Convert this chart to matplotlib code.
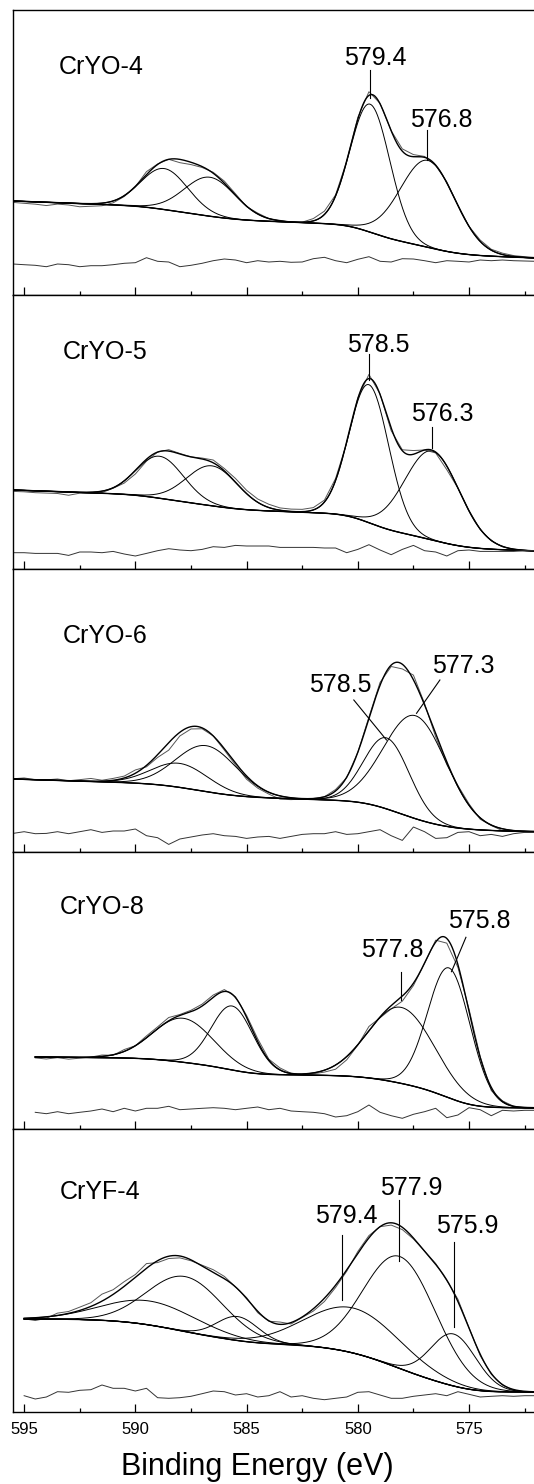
import numpy as np
import matplotlib.pyplot as plt
from matplotlib.ticker import MultipleLocator

plt.rcParams['font.family'] = ['Liberation Sans', 'DejaVu Sans']

# --- data (intensity in arbitrary units) ---
samples = ["CrYO-4", "CrYO-5", "CrYO-6", "CrYO-8", "CrYF-4"]
panel_top = [285, 274, 283, 277, 283]
scan_start = [595.5, 595.5, 595.5, 594.5, 595.0]
scan_end = 572.0

# fitted Cr 2p components: centre (eV), height above background, FWHM (eV)
centres = [
    [588.7, 586.65, 579.45, 576.85],
    [588.9, 586.55, 579.5, 576.65],
    [588.0, 586.8, 578.7, 577.4],
    [587.85, 585.65, 578.05, 575.9],
    [589.35, 587.75, 585.4, 580.2, 578.1, 575.7],
]
heights = [
    [41, 39, 128, 87],
    [42, 40, 138, 89],
    [24, 46, 71, 103],
    [44, 64, 76, 130],
    [24, 55, 24, 45, 112, 52],
]
fwhms = [
    [2.5, 2.7, 2.1, 2.9],
    [2.5, 2.7, 2.1, 2.9],
    [3.0, 3.2, 2.4, 3.3],
    [3.2, 2.2, 3.5, 2.25],
    [5.0, 4.0, 2.2, 5.0, 3.8, 2.4],
]

# Shirley + linear background: level at scan start, level at 572 eV, slope
bg_left = [94, 79, 73, 72, 93]
bg_right = [37, 18, 20, 21, 20]
bg_slope = [0.85, 0.8, 0.7, 0.2, 0.0]

# residual (raw - fit), one value every 0.5 eV from scan start down to 572 eV
residuals = [
    [-2.0, -2.7, -3.3, -4.7, -2.0, -2.7, -4.7, -3.7, -3.7, -2.7,
     -1.3, -0.7, 4.3, 0.7, 0.0, -4.7, -3.3, -1.3, 1.3, 3.0,
     2.0, -0.7, 1.3, 0.0, 0.7, -0.3, 0.0, 3.3, 4.7, 1.3,
     -0.7, 2.7, 5.3, 0.7, 0.0, 3.3, 3.0, 1.3, -0.7, 1.3,
     0.7, 0.0, 2.0, 1.3, 2.0, 1.3, 1.0, 0.7],
    [-2.0, -2.0, -2.7, -2.7, -2.7, -4.7, -1.3, -1.3, -2.0, -0.7,
     -3.3, -5.3, -2.7, 0.0, 2.0, 0.7, 0.0, 1.3, 4.0, 3.3,
     5.3, 4.7, 4.7, 4.7, 3.3, 3.3, 3.3, 3.3, 2.7, 2.7,
     -2.0, 1.3, 6.0, 0.7, -4.0, 1.3, 5.3, 0.0, -1.3, -5.3,
     0.0, 0.7, -0.7, -0.7, -0.7, -0.7, 0.0, 0.0],
    [0.3, 2.0, 0.0, 0.3, 2.0, 0.0, 2.0, 4.0, 1.3, 2.7,
     2.7, 4.7, -2.0, -4.0, -10.7, -5.3, -3.3, -1.3, 0.0, -2.0,
     -2.7, -4.7, -3.3, -2.7, -4.7, -2.7, -0.7, 0.0, 0.0, 2.0,
     -0.7, 0.0, 2.0, 4.0, -2.0, -6.7, 6.7, 2.0, -4.7, -4.0,
     1.3, 2.0, -2.0, -0.7, -2.7, 0.0, 1.3, 1.3],
    [-1.3, -2.7, -0.7, -2.7, -1.3, 0.0, 2.0, -0.7, 2.7, 0.0,
     2.7, 2.7, 4.7, 1.3, 2.0, 2.7, 3.3, 2.7, 1.3, 2.7,
     4.0, 1.3, 2.7, 0.0, -0.7, -1.3, -2.7, -6.0, -4.7, -0.7,
     6.0, -1.3, -4.7, -7.3, -3.3, -0.7, 2.7, -6.7, -4.0, 3.3,
     1.3, -4.7, 0.7, 0.0, 0.7, 0.7],
    [-0.7, -4.0, -2.0, 3.3, 2.7, 4.7, 5.3, 10.0, 6.7, 6.7,
     4.0, 6.7, -2.7, -3.3, -2.7, -1.3, 1.3, 4.0, 3.3, 0.0,
     1.3, -2.0, -0.7, 3.3, -2.0, -0.7, -3.3, -4.7, -3.3, -2.0,
     2.7, 3.3, 0.0, -3.3, -3.3, -1.3, 0.0, 1.3, -0.7, 3.3,
     0.7, -2.0, -1.3, -0.7, -1.3, -0.7, -0.7],
]

peak_labels = [
    ["579.4", "576.8"],
    ["578.5", "576.3"],
    ["578.5", "577.3"],
    ["577.8", "575.8"],
    ["579.4", "577.9", "575.9"],
]

# --- layout ---
res_offset = [33, 18.3, 18.3, 18, 17]
raw_scale = 0.7
name_pos = [(593.43, 221), (593.25, 210), (593.25, 209.3), (593.41, 214.7), (593.38, 212.7)]
label_pos = [
    [(579.23, 230), (576.27, 167.7)],
    [(579.1, 217.3), (576.2, 148.3)],
    [(580.77, 160.3), (575.27, 179.3)],
    [(578.45, 172.3), (574.56, 200.7)],
    [(580.54, 188.7), (577.58, 217), (575.08, 178.7)],
]
leaders = [
    [((579.47, 225), (579.47, 197)), ((576.88, 165), (576.88, 135))],
    [((579.49, 215), (579.49, 189)), ((576.66, 142.3), (576.66, 120.7))],
    [((580.18, 152), (578.71, 112)), ((576.31, 172), (577.36, 138.7))],
    [((578.08, 157.3), (578.08, 129)), ((575.14, 191.7), (575.79, 157.3))],
    [((580.73, 177), (580.73, 112)), ((578.15, 212), (578.15, 151)),
     ((575.68, 170.3), (575.68, 84.7))],
]


def gauss(e, c, h, w):
    s = w / 2.3548
    return h * np.exp(-0.5 * ((e - c) / s) ** 2)


fig = plt.figure(figsize=(5.34, 14.84), dpi=100)
gs = fig.add_gridspec(5, 1, height_ratios=panel_top, left=13 / 534, right=1.0,
                      top=1 - 10 / 1484, bottom=1 - 1412 / 1484, hspace=0)

for i in range(5):
    ax = fig.add_subplot(gs[i])
    n = int(round((scan_start[i] - scan_end) / 0.02)) + 1
    e = np.linspace(scan_start[i], scan_end, n)
    comps = [gauss(e, c, h, w) for c, h, w in zip(centres[i], heights[i], fwhms[i])]
    total = np.sum(comps, axis=0)

    # Shirley step follows the peak area accumulated from the low-BE side
    area = np.cumsum(total[::-1])[::-1]
    step = bg_left[i] - bg_right[i] - bg_slope[i] * (scan_start[i] - scan_end)
    bg = bg_right[i] + bg_slope[i] * (e - scan_end) + step * area / area[0]
    fit = bg + total

    e_meas = e[::25]
    res = np.array(residuals[i])
    raw = fit[::25] + raw_scale * res

    ax.plot(e_meas, raw, color='#555555', lw=0.7)
    ax.plot(e, bg, color='black', lw=1.0)
    for comp in comps:
        ax.plot(e, bg + comp, color='black', lw=0.7)
    ax.plot(e, fit, color='black', lw=1.0)
    ax.plot(e_meas, res_offset[i] + res, color='#333333', lw=0.7)

    ax.text(*name_pos[i], samples[i], fontsize=18, ha='left', va='baseline')
    for lab, (x, y), (p0, p1) in zip(peak_labels[i], label_pos[i], leaders[i]):
        ax.text(x, y, lab, fontsize=18, ha='center', va='baseline')
        ax.plot([p0[0], p1[0]], [p0[1], p1[1]], color='black', lw=0.8)

    ax.set_xlim(595.5, 572.08)
    ax.set_ylim(0, panel_top[i])
    ax.set_yticks([])
    ax.xaxis.set_major_locator(MultipleLocator(5))
    ax.xaxis.set_minor_locator(MultipleLocator(2.5))
    ax.tick_params(axis='x', which='both', direction='in', top=False, bottom=True,
                   width=0.9, labelsize=12, pad=7)
    ax.tick_params(axis='x', which='major', length=6)
    ax.tick_params(axis='x', which='minor', length=3)
    ax.spines['right'].set_visible(False)
    for s in ax.spines.values():
        s.set_linewidth(1.0)
    if i < 4:
        ax.tick_params(axis='x', labelbottom=False)
    else:
        ax.set_xticks([595, 590, 585, 580, 575])
        ax.set_xticklabels(['595', '590', '585', '580', '575'])

fig.text(257 / 534, 1 - 1467 / 1484, "Binding Energy (eV)", fontsize=22,
         ha='center', va='center')

fig.savefig("out.png", dpi=100)
